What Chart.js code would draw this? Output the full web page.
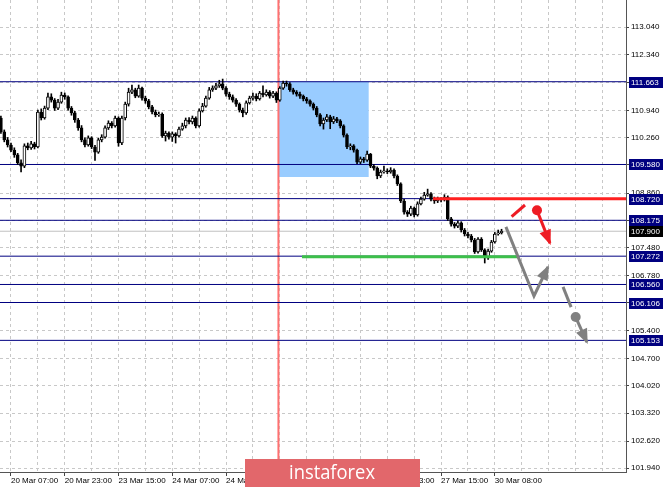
<!DOCTYPE html>
<html>
<head>
<meta charset="utf-8">
<script src="https://cdn.jsdelivr.net/npm/chart.js@4.4.1/dist/chart.umd.min.js"></script>
<style>
  html, body { margin: 0; padding: 0; background: #fff; }
</style>
</head>
<body>
<canvas id="grafico" width="665" height="490"></canvas>
<script>
// H1 bars, index 0 = first bar on screen ("20 Mar 07:00" is bar 3)
const firstOpen = 110.75;
const closes = [
  110.40, 110.20, 110.07, 109.94, 109.82, 109.62, 109.54, 110.05, 110.00, 110.10,
  110.02, 110.90, 110.75, 111.00, 111.28, 111.20, 111.00, 111.15, 111.33, 111.28,
  111.00, 110.88, 110.70, 110.50, 110.20, 110.07, 110.25, 110.02, 109.89, 110.20,
  110.27, 110.50, 110.62, 110.55, 110.75, 110.12, 110.75, 111.10, 111.40, 111.46,
  111.30, 111.50, 111.25, 111.18, 111.03, 110.90, 110.83, 110.85, 110.30, 110.37,
  110.27, 110.35, 110.30, 110.47, 110.55, 110.70, 110.65, 110.75, 110.55, 110.93,
  111.05, 111.25, 111.46, 111.50, 111.56, 111.61, 111.50, 111.35, 111.28, 111.20,
  111.10, 110.95, 110.88, 111.13, 111.25, 111.30, 111.23, 111.38, 111.33, 111.40,
  111.30, 111.38, 111.20, 111.50, 111.63, 111.61, 111.46, 111.40, 111.35, 111.30,
  111.23, 111.18, 111.10, 111.00, 110.83, 110.60, 110.70, 110.78, 110.65, 110.73,
  110.68, 110.55, 110.32, 110.02, 110.05, 109.94, 109.64, 109.72, 109.69, 109.84,
  109.54, 109.49, 109.29, 109.39, 109.42, 109.39, 109.44, 109.29, 109.09, 108.66,
  108.38, 108.33, 108.48, 108.31, 108.59, 108.71, 108.81, 108.84, 108.71, 108.66,
  108.71, 108.69, 108.76, 108.21, 108.08, 108.03, 108.11, 107.93, 107.83, 107.78,
  107.68, 107.38, 107.70, 107.43, 107.23, 107.40, 107.63, 107.83, 107.86, 107.90
];
const highs = [
  110.80, 110.45, 110.26, 110.12, 110.00, 109.86, 109.70, 110.10, 110.12, 110.16,
  110.14, 110.95, 110.98, 111.05, 111.38, 111.36, 111.24, 111.22, 111.40, 111.38,
  111.31, 111.04, 110.92, 110.74, 110.56, 110.25, 110.30, 110.28, 110.06, 110.24,
  110.33, 110.55, 110.68, 110.66, 110.80, 110.78, 110.80, 111.15, 111.50, 111.58,
  111.50, 111.58, 111.53, 111.30, 111.22, 111.07, 110.95, 110.90, 110.88, 110.42,
  110.40, 110.40, 110.38, 110.52, 110.62, 110.75, 110.76, 110.80, 110.78, 110.98,
  111.12, 111.30, 111.52, 111.56, 111.62, 111.70, 111.73, 111.54, 111.40, 111.33,
  111.24, 111.13, 111.00, 111.18, 111.30, 111.38, 111.36, 111.42, 111.56, 111.46,
  111.44, 111.42, 111.41, 111.54, 111.68, 111.68, 111.64, 111.50, 111.44, 111.40,
  111.33, 111.27, 111.21, 111.13, 111.04, 110.86, 110.75, 110.84, 110.82, 110.79,
  110.77, 110.71, 110.58, 110.35, 110.10, 110.08, 109.97, 109.77, 109.76, 109.92,
  109.86, 109.58, 109.52, 109.44, 109.54, 109.47, 109.50, 109.47, 109.32, 109.12,
  108.70, 108.42, 108.53, 108.51, 108.64, 108.76, 108.88, 108.96, 108.87, 108.76,
  108.76, 108.75, 108.82, 108.79, 108.25, 108.12, 108.16, 108.14, 107.97, 107.87,
  107.82, 107.72, 107.74, 107.74, 107.46, 107.45, 107.67, 107.87, 107.93, 107.95
];
const lows = [
  110.36, 110.15, 110.02, 109.90, 109.76, 109.58, 109.39, 109.50, 109.95, 109.96,
  109.97, 110.00, 110.70, 110.72, 110.96, 111.15, 110.94, 110.96, 111.12, 111.22,
  110.95, 110.82, 110.64, 110.44, 110.15, 110.02, 110.04, 109.98, 109.68, 109.86,
  110.15, 110.24, 110.46, 110.50, 110.52, 110.04, 110.08, 110.70, 111.05, 111.36,
  111.26, 111.27, 111.20, 111.12, 110.98, 110.85, 110.78, 110.79, 110.26, 110.17,
  110.22, 110.16, 110.12, 110.27, 110.44, 110.50, 110.60, 110.60, 110.50, 110.52,
  110.90, 111.02, 111.22, 111.42, 111.46, 111.52, 111.46, 111.30, 111.22, 111.15,
  111.04, 110.90, 110.78, 110.84, 111.10, 111.20, 111.18, 111.20, 111.28, 111.30,
  111.25, 111.26, 111.14, 111.17, 111.47, 111.55, 111.42, 111.35, 111.30, 111.24,
  111.18, 111.12, 111.05, 110.95, 110.78, 110.55, 110.47, 110.66, 110.48, 110.61,
  110.63, 110.50, 110.27, 109.98, 109.95, 109.89, 109.60, 109.60, 109.63, 109.66,
  109.50, 109.44, 109.22, 109.25, 109.36, 109.35, 109.36, 109.24, 109.05, 108.62,
  108.33, 108.27, 108.29, 108.26, 108.28, 108.56, 108.68, 108.78, 108.66, 108.60,
  108.62, 108.64, 108.66, 108.17, 108.03, 107.98, 107.99, 107.88, 107.78, 107.73,
  107.63, 107.34, 107.35, 107.39, 107.10, 107.19, 107.37, 107.60, 107.80, 107.83
];

// time axis: grid every 8 bars, label every 16
const gridBars = [3, 11, 19, 27, 35, 43, 51, 59, 67, 75, 83, 91, 99, 107, 115, 123, 131, 139, 147, 155, 163, 171, 179];
const labelBars = [3, 19, 35, 51, 67, 83, 99, 115, 131, 147];
const labelTexts = ['20 Mar 07:00', '20 Mar 23:00', '23 Mar 15:00', '24 Mar 07:00', '24 Mar 23:00',
                    '25 Mar 15:00', '26 Mar 07:00', '26 Mar 23:00', '27 Mar 15:00', '30 Mar 08:00'];

const priceTicks = [113.04, 112.34, 111.64, 110.94, 110.26, 109.58, 108.86, 108.18, 107.48,
                    106.78, 106.10, 105.40, 104.70, 104.02, 103.32, 102.62, 101.94];
const hiddenTicks = [111.64, 109.58, 108.18, 106.10];

const levels = [111.663, 109.580, 108.720, 108.175, 107.272, 106.560, 106.106, 105.153];
const lastPrice = 107.900;

const xRange = [-0.27, 186.04];
const yRange = [101.84, 113.72];

// drawn objects, [bar, price]
const markerBar = 82.6;
const zoneBars = [82.7, 109.5];
const zonePrices = [111.663, 109.265];
const supportBars = [89.6, 153.6];
const supportPrice = 107.26;
const resistBars = [128.6, 186.04];
const resistPrice = 108.72;
const redStroke = [[152.0, 108.27], [155.98, 108.56]];
const redArrow = [[159.55, 108.43], [163.4, 107.60]];
const greyPath = [[150.3, 108.01], [158.65, 106.27], [162.8, 107.00]];
const greyDash = [[167.3, 106.50], [169.7, 105.99]];
const greyArrow = [[171.06, 105.74], [174.4, 105.11]];

const navy = '#000080';
const pts = arr => arr.map(p => ({x: p[0], y: p[1]}));
const hline = (v, x0, x1) => [{x: x0, y: v}, {x: x1, y: v}];

const opens = closes.map((c, i) => i === 0 ? firstOpen : closes[i - 1]);
const wickData = closes.map((c, i) => ({x: i, y: [lows[i], highs[i]]}));
const bodyData = closes.map((c, i) => ({x: i, y: [opens[i], c]}));
const bodyFill = closes.map((c, i) => c >= opens[i] ? '#ffffff' : '#000000');

function lineSet(data, color, width, order, extra) {
    return Object.assign({
        type: 'line', data: data, borderColor: color, borderWidth: width,
        pointRadius: 0, fill: false, tension: 0, order: order
    }, extra || {});
}

const datasets = [
    lineSet(hline(zonePrices[0], zoneBars[0], zoneBars[1]), 'rgba(0,0,0,0)', 0, 9,
        {fill: {value: zonePrices[1]}, backgroundColor: '#99ccff'}),
    lineSet([{x: markerBar, y: yRange[0]}, {x: markerBar, y: yRange[1]}], '#ff7070', 2, 8),
    lineSet(hline(lastPrice, xRange[0], xRange[1]), '#c0c0c0', 1, 8),
    ...levels.map(v => lineSet(hline(v, xRange[0], xRange[1]), navy, 1, 7)),
    {
        type: 'bar', data: wickData, backgroundColor: '#000', borderWidth: 0,
        barThickness: 1, grouped: false, order: 5
    },
    {
        type: 'bar', data: bodyData, backgroundColor: bodyFill, borderColor: '#000',
        borderWidth: 1, borderSkipped: false, barThickness: 3, grouped: false, order: 4
    },
    lineSet(hline(supportPrice, supportBars[0], supportBars[1]), '#3cc04a', 3, 3),
    lineSet(hline(resistPrice, resistBars[0], resistBars[1]), '#ff2020', 3, 3),
    lineSet(pts(redStroke), '#ee1c24', 3, 2),
    lineSet(pts(redArrow), '#ee1c24', 3, 2, {arrowHead: true}),
    lineSet(pts(greyPath), '#808080', 3, 2, {arrowHead: true}),
    lineSet(pts(greyDash), '#808080', 3, 2),
    lineSet(pts(greyArrow), '#808080', 3, 2, {arrowHead: true}),
    lineSet(pts([redArrow[0]]), '#ee1c24', 0, 1, {pointRadius: 5, pointBackgroundColor: '#ee1c24', showLine: false}),
    lineSet(pts([greyArrow[0]]), '#808080', 0, 1, {pointRadius: 5, pointBackgroundColor: '#808080', showLine: false})
];

const arrowHeads = {
    id: 'arrowHeads',
    afterDatasetsDraw(chart) {
        const ctx = chart.ctx;
        chart.data.datasets.forEach((ds, k) => {
            if (!ds.arrowHead) return;
            const p = chart.getDatasetMeta(k).data;
            const a = p[p.length - 2], b = p[p.length - 1];
            const ang = Math.atan2(b.y - a.y, b.x - a.x);
            const len = 13, half = 6;
            const bx = b.x - len * Math.cos(ang), by = b.y - len * Math.sin(ang);
            ctx.save();
            ctx.fillStyle = ds.borderColor;
            ctx.beginPath();
            ctx.moveTo(b.x + 2 * Math.cos(ang), b.y + 2 * Math.sin(ang));
            ctx.lineTo(bx + half * Math.sin(ang), by - half * Math.cos(ang));
            ctx.lineTo(bx - half * Math.sin(ang), by + half * Math.cos(ang));
            ctx.closePath();
            ctx.fill();
            ctx.restore();
        });
    }
};

const priceTags = {
    id: 'priceTags',
    afterDraw(chart) {
        const {ctx, scales: {y}} = chart;
        ctx.save();
        ctx.font = '8px "Liberation Sans"';
        ctx.textBaseline = 'middle';
        const tag = (v, bg) => {
            const py = Math.round(y.getPixelForValue(v));
            ctx.fillStyle = bg;
            ctx.fillRect(y.left + 3, py - 5, 34, 11);
            ctx.fillStyle = '#fff';
            ctx.fillText(v.toFixed(3), y.left + 5, py + 0.5);
        };
        levels.forEach(v => tag(v, navy));
        tag(lastPrice, '#000');

        // instaforex badge
        ctx.fillStyle = '#e2676b';
        ctx.fillRect(245, 459, 175, 28);
        ctx.fillStyle = '#fff';
        ctx.font = '20px "Open Sans"';
        ctx.textAlign = 'center';
        ctx.fillText('instaforex', 332, 473, 86);
        ctx.restore();
    }
};

// no extra room for edge labels: the plot runs to the canvas edges
const noPad = s => { s.paddingTop = 0; s.paddingBottom = 0; s.paddingLeft = 0; s.paddingRight = 0; };
const tickFont = {family: 'Liberation Sans', size: 8};

new Chart(document.getElementById('grafico'), {
    type: 'bar',
    data: {datasets: datasets},
    options: {
        responsive: false,
        animation: false,
        devicePixelRatio: 1,
        layout: {padding: 0, autoPadding: false},
        scales: {
            x: {
                type: 'linear', position: 'bottom',
                min: xRange[0], max: xRange[1], offset: false,
                afterBuildTicks: s => { s.ticks = gridBars.map(v => ({value: v})); },
                afterFit: s => { s.height = 18; noPad(s); },
                ticks: {
                    autoSkip: false, maxRotation: 0, minRotation: 0, align: 'start', padding: 0,
                    font: tickFont, color: '#000',
                    callback: v => {
                        const k = labelBars.indexOf(v);
                        return k >= 0 ? labelTexts[k] : '';
                    }
                },
                grid: {
                    offset: false, color: '#c8c8c8', tickLength: 4,
                    tickColor: c => (c.tick && labelBars.includes(c.tick.value)) ? '#444' : 'rgba(0,0,0,0)'
                },
                border: {color: '#555', dash: [3, 3]}
            },
            y: {
                type: 'linear', position: 'right',
                min: yRange[0], max: yRange[1], beginAtZero: false,
                afterBuildTicks: s => { s.ticks = priceTicks.map(v => ({value: v})); },
                afterFit: s => { s.width = 39; noPad(s); },
                ticks: {
                    padding: 2, font: tickFont, color: '#000',
                    callback: v => hiddenTicks.includes(v) ? '' : v.toFixed(3)
                },
                grid: {color: '#c8c8c8', tickLength: 3, tickColor: '#444'},
                border: {color: '#555', dash: [3, 3]}
            }
        },
        plugins: {
            legend: {display: false},
            tooltip: {enabled: false}
        }
    },
    plugins: [arrowHeads, priceTags]
});
</script>
</body>
</html>
